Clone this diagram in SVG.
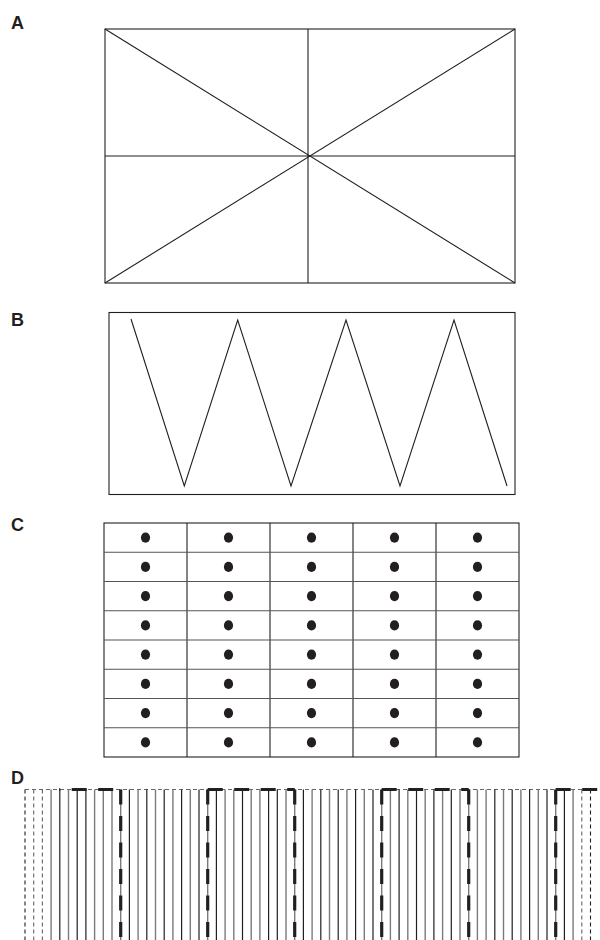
<svg xmlns="http://www.w3.org/2000/svg" width="600" height="940" viewBox="0 0 600 940">
<style>
.lbl{font-family:"Liberation Sans",Arial,sans-serif;font-weight:bold;font-size:18px;fill:#231f20}
.ln{stroke:#231f20;stroke-width:1.1;fill:none}
.gl{stroke:#555;stroke-width:1.1;fill:none}
.dot{fill:#231f20}
.k{stroke:#231f20;stroke-width:1.2}
.g{stroke:#7a7a7a;stroke-width:1.4}
.td{stroke:#231f20;stroke-width:1.1;stroke-dasharray:4 3}
.tdg{stroke:#666;stroke-width:1.1;stroke-dasharray:4 3}
.thick{stroke:#231f20;stroke-width:3.2;stroke-dasharray:15 11.5;fill:none}
</style>
<rect width="600" height="940" fill="#fff"/>

<g id="panelA">
<text class="lbl" x="11" y="29">A</text>
<rect class="ln" x="105" y="29" width="410" height="254"/>
<line class="ln" x1="308" y1="29" x2="308" y2="283"/>
<line class="ln" x1="105" y1="156" x2="515" y2="156"/>
<line class="ln" x1="105" y1="29" x2="515" y2="283"/>
<line class="ln" x1="515" y1="29" x2="105" y2="283"/>
</g>

<g id="panelB">
<text class="lbl" x="11" y="326">B</text>
<rect class="ln" x="109" y="312.5" width="406" height="182"/>
<polyline class="ln" points="131,319 184.3,486 237.7,320 291,486 346,320 400,486 454,320 507,486"/>
</g>

<g id="panelC">
<text class="lbl" x="11" y="531">C</text>
<rect class="ln" x="104" y="523" width="415" height="234"/>
<g class="ln">
<line x1="187" y1="523" x2="187" y2="757"/>
<line x1="270" y1="523" x2="270" y2="757"/>
<line x1="353" y1="523" x2="353" y2="757"/>
<line x1="436" y1="523" x2="436" y2="757"/>
</g>
<g class="gl">
<line x1="104" y1="552.25" x2="519" y2="552.25"/>
<line x1="104" y1="581.5" x2="519" y2="581.5"/>
<line x1="104" y1="610.75" x2="519" y2="610.75"/>
<line x1="104" y1="640" x2="519" y2="640"/>
<line x1="104" y1="669.25" x2="519" y2="669.25"/>
<line x1="104" y1="698.5" x2="519" y2="698.5"/>
<line x1="104" y1="727.75" x2="519" y2="727.75"/>
</g>
<g class="dot">
<ellipse cx="145.5" cy="537.6" rx="4.6" ry="5.1"/><ellipse cx="228.5" cy="537.6" rx="4.6" ry="5.1"/><ellipse cx="311.5" cy="537.6" rx="4.6" ry="5.1"/><ellipse cx="394.5" cy="537.6" rx="4.6" ry="5.1"/><ellipse cx="477.5" cy="537.6" rx="4.6" ry="5.1"/>
<ellipse cx="145.5" cy="566.9" rx="4.6" ry="5.1"/><ellipse cx="228.5" cy="566.9" rx="4.6" ry="5.1"/><ellipse cx="311.5" cy="566.9" rx="4.6" ry="5.1"/><ellipse cx="394.5" cy="566.9" rx="4.6" ry="5.1"/><ellipse cx="477.5" cy="566.9" rx="4.6" ry="5.1"/>
<ellipse cx="145.5" cy="596.1" rx="4.6" ry="5.1"/><ellipse cx="228.5" cy="596.1" rx="4.6" ry="5.1"/><ellipse cx="311.5" cy="596.1" rx="4.6" ry="5.1"/><ellipse cx="394.5" cy="596.1" rx="4.6" ry="5.1"/><ellipse cx="477.5" cy="596.1" rx="4.6" ry="5.1"/>
<ellipse cx="145.5" cy="625.4" rx="4.6" ry="5.1"/><ellipse cx="228.5" cy="625.4" rx="4.6" ry="5.1"/><ellipse cx="311.5" cy="625.4" rx="4.6" ry="5.1"/><ellipse cx="394.5" cy="625.4" rx="4.6" ry="5.1"/><ellipse cx="477.5" cy="625.4" rx="4.6" ry="5.1"/>
<ellipse cx="145.5" cy="654.6" rx="4.6" ry="5.1"/><ellipse cx="228.5" cy="654.6" rx="4.6" ry="5.1"/><ellipse cx="311.5" cy="654.6" rx="4.6" ry="5.1"/><ellipse cx="394.5" cy="654.6" rx="4.6" ry="5.1"/><ellipse cx="477.5" cy="654.6" rx="4.6" ry="5.1"/>
<ellipse cx="145.5" cy="683.9" rx="4.6" ry="5.1"/><ellipse cx="228.5" cy="683.9" rx="4.6" ry="5.1"/><ellipse cx="311.5" cy="683.9" rx="4.6" ry="5.1"/><ellipse cx="394.5" cy="683.9" rx="4.6" ry="5.1"/><ellipse cx="477.5" cy="683.9" rx="4.6" ry="5.1"/>
<ellipse cx="145.5" cy="713.1" rx="4.6" ry="5.1"/><ellipse cx="228.5" cy="713.1" rx="4.6" ry="5.1"/><ellipse cx="311.5" cy="713.1" rx="4.6" ry="5.1"/><ellipse cx="394.5" cy="713.1" rx="4.6" ry="5.1"/><ellipse cx="477.5" cy="713.1" rx="4.6" ry="5.1"/>
<ellipse cx="145.5" cy="742.4" rx="4.6" ry="5.1"/><ellipse cx="228.5" cy="742.4" rx="4.6" ry="5.1"/><ellipse cx="311.5" cy="742.4" rx="4.6" ry="5.1"/><ellipse cx="394.5" cy="742.4" rx="4.6" ry="5.1"/><ellipse cx="477.5" cy="742.4" rx="4.6" ry="5.1"/>
</g>
</g>

<g id="panelD">
<text class="lbl" x="11" y="784">D</text>
<line class="tdg" x1="25" y1="789.5" x2="591" y2="789.5"/>
<g id="thinDashed">
<line class="td" x1="25" y1="789.5" x2="25" y2="940"/>
<line class="tdg" x1="33.7" y1="789.5" x2="33.7" y2="940"/>
<line class="tdg" x1="42.4" y1="789.5" x2="42.4" y2="940"/>
<line class="tdg" x1="581.8" y1="789.5" x2="581.8" y2="940"/>
<line class="td" x1="590.5" y1="789.5" x2="590.5" y2="940"/>
</g>
<g id="solidLines">
<line class="g" x1="51.1" y1="789.5" x2="51.1" y2="940"/>
<line class="k" x1="59.8" y1="789.5" x2="59.8" y2="940"/>
<line class="g" x1="68.5" y1="789.5" x2="68.5" y2="940"/>
<line class="k" x1="77.2" y1="789.5" x2="77.2" y2="940"/>
<line class="k" x1="85.9" y1="789.5" x2="85.9" y2="940"/>
<line class="g" x1="94.6" y1="789.5" x2="94.6" y2="940"/>
<line class="g" x1="103.3" y1="789.5" x2="103.3" y2="940"/>
<line class="g" x1="112" y1="789.5" x2="112" y2="940"/>
<line class="g" x1="120.7" y1="789.5" x2="120.7" y2="940"/>
<line class="k" x1="129.4" y1="789.5" x2="129.4" y2="940"/>
<line class="g" x1="138.1" y1="789.5" x2="138.1" y2="940"/>
<line class="k" x1="146.8" y1="789.5" x2="146.8" y2="940"/>
<line class="g" x1="155.5" y1="789.5" x2="155.5" y2="940"/>
<line class="k" x1="164.2" y1="789.5" x2="164.2" y2="940"/>
<line class="g" x1="172.9" y1="789.5" x2="172.9" y2="940"/>
<line class="k" x1="181.6" y1="789.5" x2="181.6" y2="940"/>
<line class="g" x1="190.3" y1="789.5" x2="190.3" y2="940"/>
<line class="k" x1="199" y1="789.5" x2="199" y2="940"/>
<line class="g" x1="207.7" y1="789.5" x2="207.7" y2="940"/>
<line class="k" x1="216.4" y1="789.5" x2="216.4" y2="940"/>
<line class="g" x1="225.1" y1="789.5" x2="225.1" y2="940"/>
<line class="g" x1="233.8" y1="789.5" x2="233.8" y2="940"/>
<line class="k" x1="242.5" y1="789.5" x2="242.5" y2="940"/>
<line class="g" x1="251.2" y1="789.5" x2="251.2" y2="940"/>
<line class="g" x1="259.9" y1="789.5" x2="259.9" y2="940"/>
<line class="k" x1="268.6" y1="789.5" x2="268.6" y2="940"/>
<line class="k" x1="277.3" y1="789.5" x2="277.3" y2="940"/>
<line class="g" x1="286" y1="789.5" x2="286" y2="940"/>
<line class="g" x1="294.7" y1="789.5" x2="294.7" y2="940"/>
<line class="k" x1="303.4" y1="789.5" x2="303.4" y2="940"/>
<line class="g" x1="312.1" y1="789.5" x2="312.1" y2="940"/>
<line class="k" x1="320.8" y1="789.5" x2="320.8" y2="940"/>
<line class="g" x1="329.5" y1="789.5" x2="329.5" y2="940"/>
<line class="k" x1="338.2" y1="789.5" x2="338.2" y2="940"/>
<line class="g" x1="346.9" y1="789.5" x2="346.9" y2="940"/>
<line class="k" x1="355.6" y1="789.5" x2="355.6" y2="940"/>
<line class="g" x1="364.3" y1="789.5" x2="364.3" y2="940"/>
<line class="k" x1="373" y1="789.5" x2="373" y2="940"/>
<line class="g" x1="381.7" y1="789.5" x2="381.7" y2="940"/>
<line class="g" x1="390.4" y1="789.5" x2="390.4" y2="940"/>
<line class="k" x1="399.1" y1="789.5" x2="399.1" y2="940"/>
<line class="g" x1="407.8" y1="789.5" x2="407.8" y2="940"/>
<line class="k" x1="416.5" y1="789.5" x2="416.5" y2="940"/>
<line class="g" x1="425.2" y1="789.5" x2="425.2" y2="940"/>
<line class="k" x1="433.9" y1="789.5" x2="433.9" y2="940"/>
<line class="g" x1="442.6" y1="789.5" x2="442.6" y2="940"/>
<line class="k" x1="451.3" y1="789.5" x2="451.3" y2="940"/>
<line class="g" x1="460" y1="789.5" x2="460" y2="940"/>
<line class="g" x1="468.7" y1="789.5" x2="468.7" y2="940"/>
<line class="g" x1="477.4" y1="789.5" x2="477.4" y2="940"/>
<line class="g" x1="486.1" y1="789.5" x2="486.1" y2="940"/>
<line class="k" x1="494.8" y1="789.5" x2="494.8" y2="940"/>
<line class="g" x1="503.5" y1="789.5" x2="503.5" y2="940"/>
<line class="k" x1="512.2" y1="789.5" x2="512.2" y2="940"/>
<line class="g" x1="520.9" y1="789.5" x2="520.9" y2="940"/>
<line class="k" x1="529.6" y1="789.5" x2="529.6" y2="940"/>
<line class="g" x1="538.3" y1="789.5" x2="538.3" y2="940"/>
<line class="k" x1="547" y1="789.5" x2="547" y2="940"/>
<line class="g" x1="555.7" y1="789.5" x2="555.7" y2="940"/>
<line class="k" x1="564.4" y1="789.5" x2="564.4" y2="940"/>
<line class="g" x1="573.1" y1="789.5" x2="573.1" y2="940"/>
</g>
<g id="thickPaths">
<path class="thick" d="M120.7,789.5 H59.2" stroke-dashoffset="-7.5"/>
<path class="thick" d="M120.7,789.5 V940"/>
<path class="thick" d="M207.7,789.5 V940"/>
<path class="thick" d="M207.7,789.5 H294.7"/>
<path class="thick" d="M294.7,789.5 V940"/>
<path class="thick" d="M381.7,789.5 V940"/>
<path class="thick" d="M381.7,789.5 H468.7"/>
<path class="thick" d="M468.7,789.5 V940"/>
<path class="thick" d="M555.7,789.5 V940"/>
<path class="thick" d="M555.7,789.5 H600"/>
</g>
</g>
</svg>
